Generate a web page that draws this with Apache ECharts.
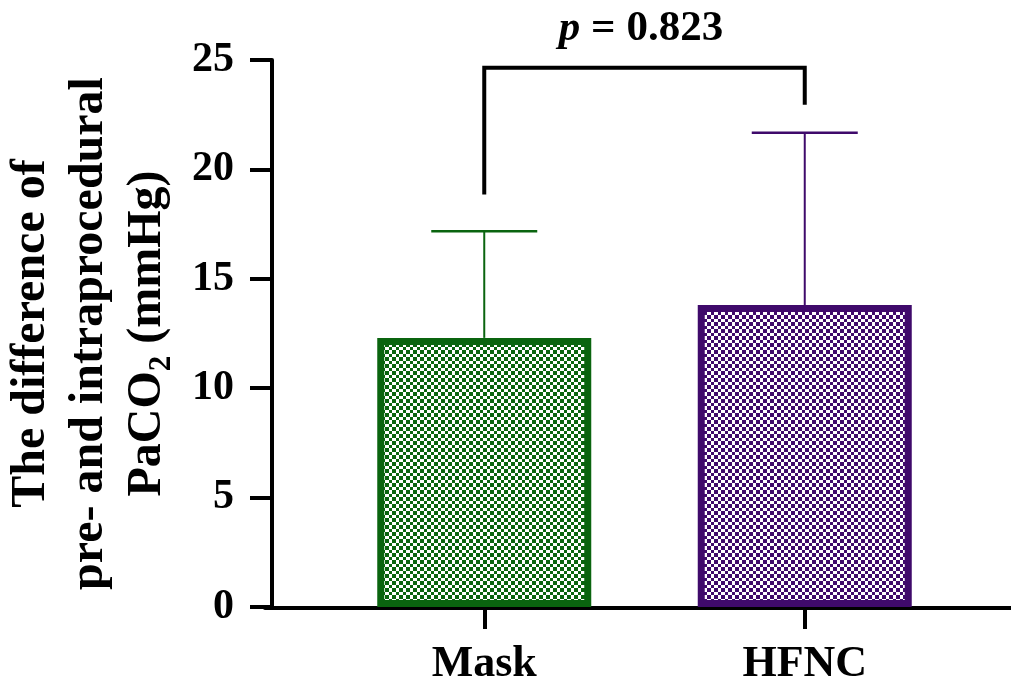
<!DOCTYPE html>
<html><head><meta charset="utf-8">
<script src="https://cdn.jsdelivr.net/npm/echarts@6/dist/echarts.min.js"></script>
<style>html,body{margin:0;padding:0;background:#fff}#c{width:1011px;height:687px}</style>
</head><body><div id="c"></div>
<script>
const categories = ['Mask', 'HFNC'];
const means = [12.3, 13.8];
const sds = [4.87, 7.88];
const yTicks = [0, 5, 10, 15, 20, 25];
const barColors = ['#0a640f', '#3f0a6b'];
const bracketLevels = [18.85, 24.65, 24.65, 22.95];
const pText = '0.823';

const FONT = '"Liberation Serif", "Times New Roman", serif';

function checker(color) {
  const c = document.createElement('canvas');
  c.width = 7; c.height = 7;
  const g = c.getContext('2d');
  g.fillStyle = '#ffffff'; g.fillRect(0, 0, 7, 7);
  g.fillStyle = color;
  g.fillRect(0, 0, 4, 4); g.fillRect(4, 4, 3, 3);
  return c;
}

const chart = echarts.init(document.getElementById('c'), null, {renderer: 'canvas'});
chart.setOption({
  animation: false,
  backgroundColor: '#fff',
  title: {
    text: '{i|p}{b| = ' + pText + '}',
    left: 636, top: 2, textAlign: 'center',
    textStyle: {
      rich: {
        i: {fontFamily: FONT, fontWeight: 'bold', fontStyle: 'italic', fontSize: 43, color: '#000'},
        b: {fontFamily: FONT, fontWeight: 'bold', fontSize: 43, color: '#000'}
      }
    }
  },
  grid: [
    {left: 317, right: 46, top: 60, bottom: 79},
    {left: 265, right: 0, top: 60, bottom: 79}
  ],
  xAxis: [
    {
      type: 'category', data: categories, gridIndex: 0,
      axisLine: {show: false},
      axisTick: {show: true, alignWithLabel: true, length: 22, lineStyle: {width: 4, color: '#000'}},
      axisLabel: {fontFamily: FONT, fontWeight: 'bold', fontSize: 44, color: '#000', margin: 36}
    },
    {
      type: 'value', gridIndex: 1, min: 0, max: 1,
      axisLine: {show: true, lineStyle: {width: 4, color: '#000'}},
      axisTick: {show: false}, axisLabel: {show: false}, splitLine: {show: false}
    }
  ],
  yAxis: [
    {
      type: 'value', gridIndex: 0, min: 0, max: 25, interval: 5, offset: 52,
      axisLine: {show: true, lineStyle: {width: 4, color: '#000'}},
      axisTick: {show: true, length: 22, lineStyle: {width: 4, color: '#000'}},
      axisLabel: {fontFamily: FONT, fontWeight: 'bold', fontSize: 42, color: '#000', margin: 38,
        customValues: yTicks},
      splitLine: {show: false},
      name: '{a|The difference of}\n{a|pre- and intraprocedural}\n{a|PaCO}{s|2}{a| (mmHg)}',
      nameLocation: 'middle', nameGap: 95, nameRotate: 90,
      nameTextStyle: {
        rich: {
          a: {fontFamily: FONT, fontWeight: 'bold', fontSize: 48, lineHeight: 58, color: '#000'},
          s: {fontFamily: FONT, fontWeight: 'bold', fontSize: 31, lineHeight: 45, verticalAlign: 'bottom', color: '#000'}
        }
      }
    },
    {
      type: 'value', gridIndex: 1, min: 0, max: 25, show: false
    }
  ],
  series: [
    {
      type: 'bar', xAxisIndex: 0, yAxisIndex: 0, barWidth: 214,
      data: means.map((v, i) => ({
        value: v,
        itemStyle: {
          color: {image: checker(barColors[i]), repeat: 'repeat'},
          borderColor: barColors[i], borderWidth: 7
        }
      })),
      z: 2
    },
    {
      type: 'custom', xAxisIndex: 0, yAxisIndex: 0, z: 1,
      data: means.map((m, i) => [i, m, m + sds[i]]),
      renderItem: function (params, api) {
        const i = api.value(0);
        const base = api.coord([i, api.value(1)]);
        const top = api.coord([i, api.value(2)]);
        const hw = 53;
        const col = barColors[i];
        return {
          type: 'group',
          children: [
            {type: 'line', shape: {x1: base[0], y1: base[1], x2: top[0], y2: top[1]}, style: {stroke: col, lineWidth: 2}},
            {type: 'line', shape: {x1: top[0] - hw, y1: top[1], x2: top[0] + hw, y2: top[1]}, style: {stroke: col, lineWidth: 2.5}}
          ]
        };
      }
    },
    {
      type: 'line', xAxisIndex: 0, yAxisIndex: 0, symbol: 'none',
      data: [[categories[0], bracketLevels[0]], [categories[0], bracketLevels[1]],
             [categories[1], bracketLevels[2]], [categories[1], bracketLevels[3]]],
      lineStyle: {color: '#000', width: 4, join: 'miter'}, z: 3
    }
  ]
});
</script></body></html>
